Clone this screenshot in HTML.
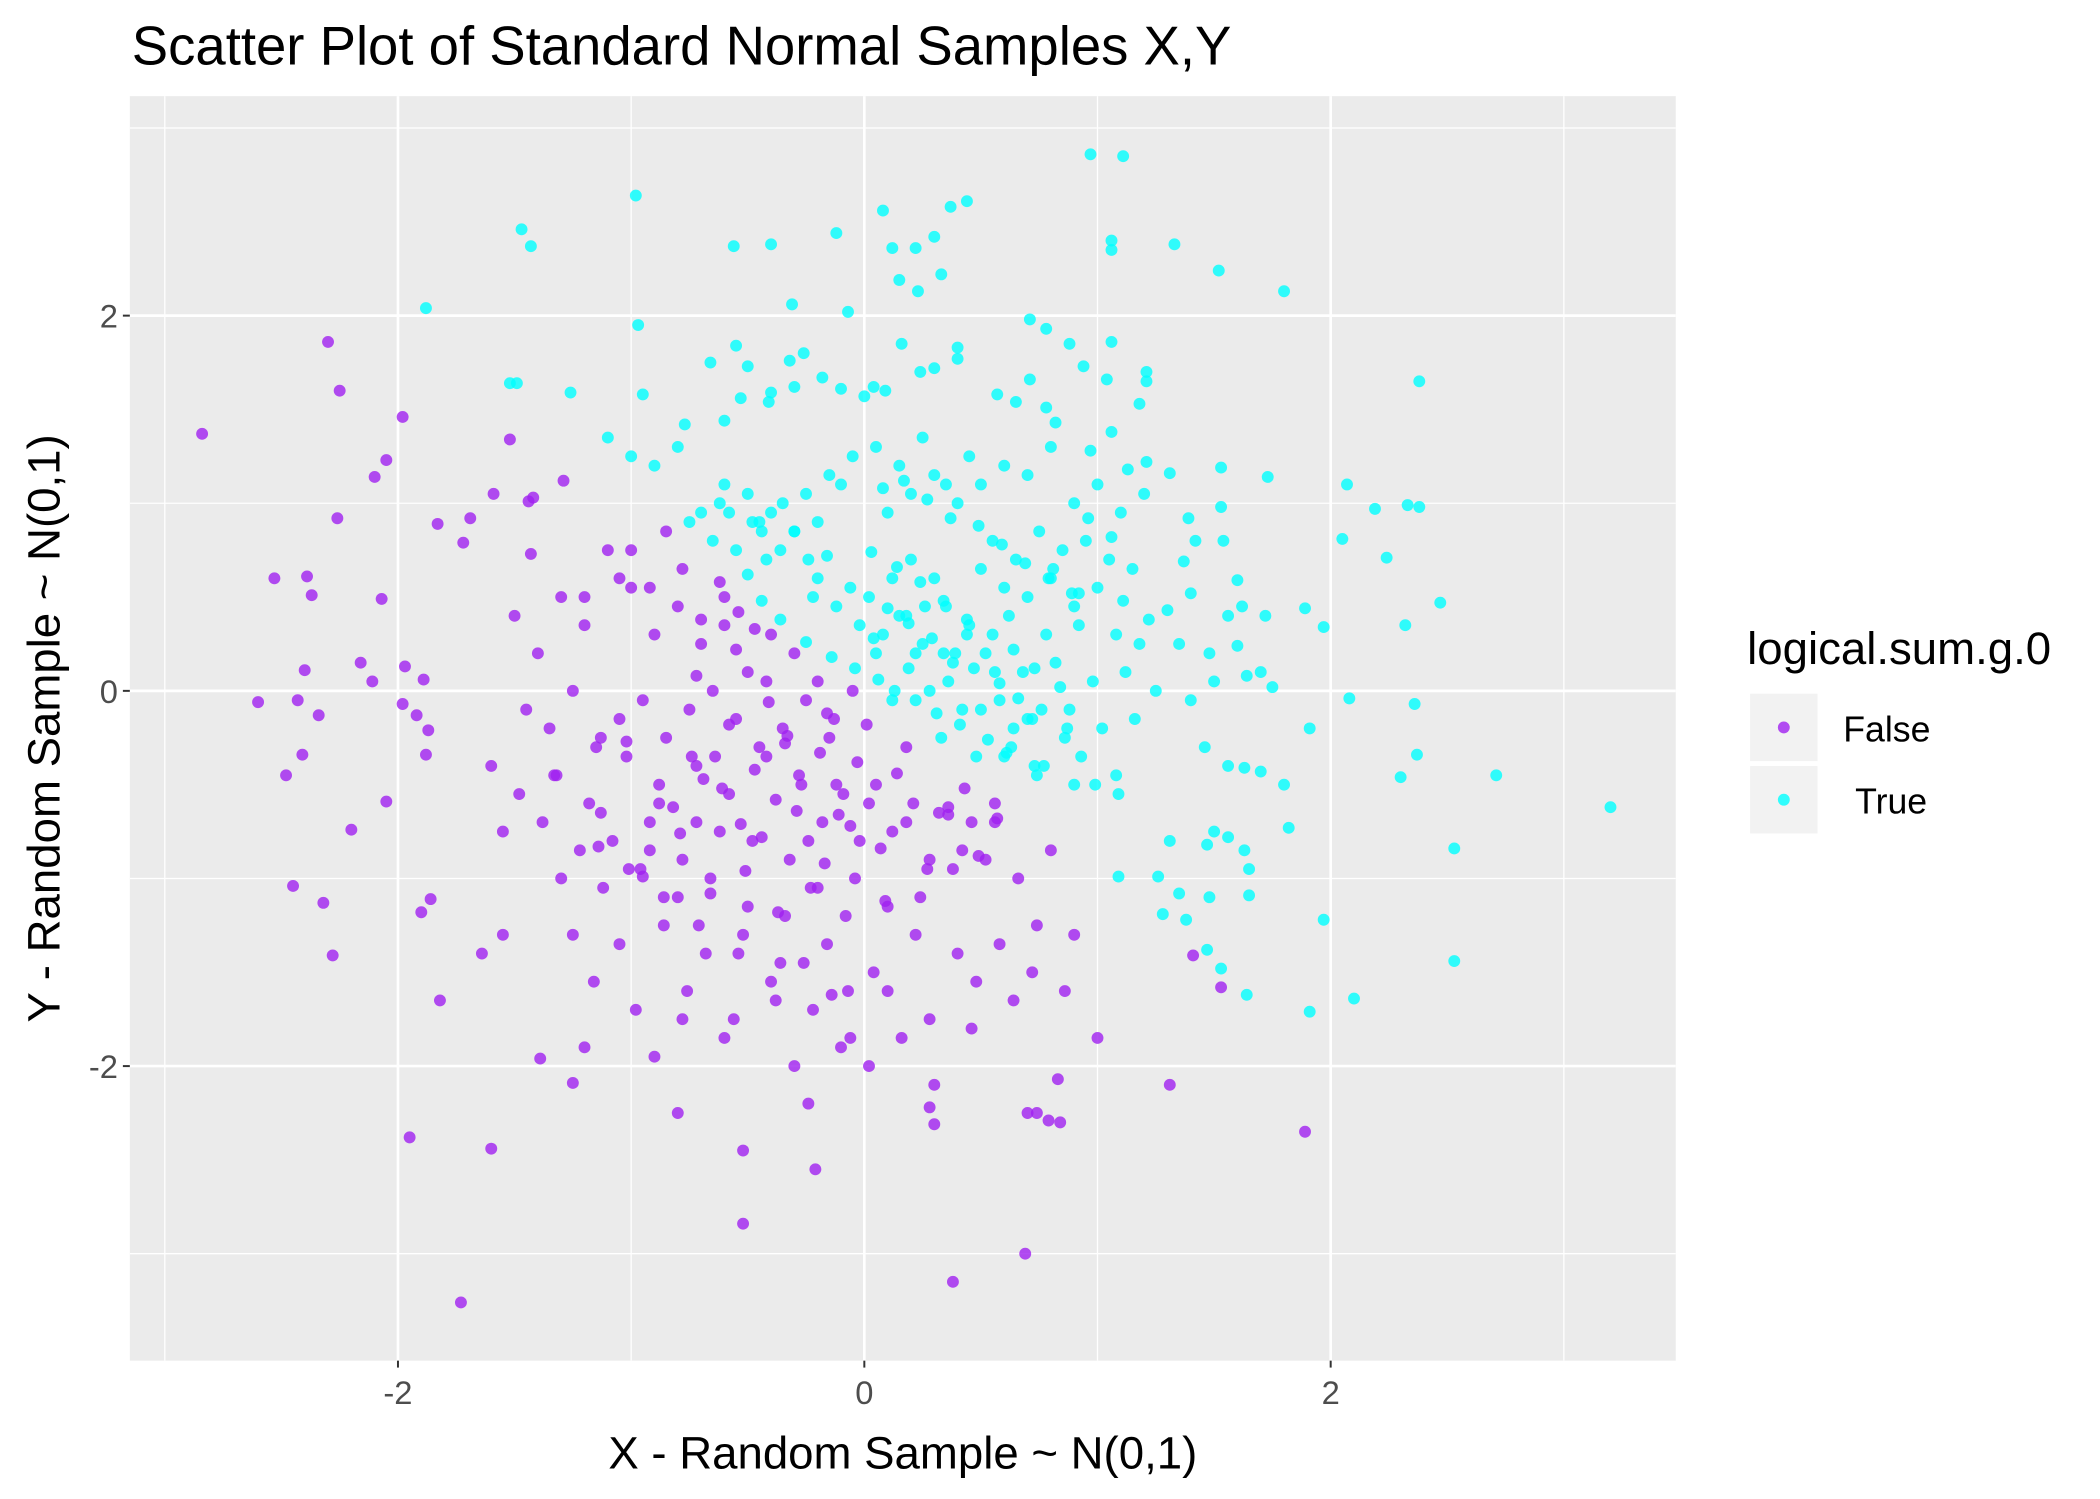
<!DOCTYPE html>
<html><head><meta charset="utf-8"><style>
html,body{margin:0;padding:0;background:#fff;}
svg{display:block;font-family:"Liberation Sans",sans-serif;}
</style></head><body>
<svg id="chart" width="2100" height="1499" viewBox="0 0 2100 1499">
<rect x="0" y="0" width="2100" height="1499" fill="#fff"/>
<g transform="scale(0.991)">
<text x="133" y="65" font-size="55" fill="#000">Scatter Plot of Standard Normal Samples X,Y</text>
<rect x="131" y="97" width="1560" height="1276" fill="#EBEBEB"/>
<g id="grid"></g>
<g id="points"></g>
<g id="axes"></g>
<text x="911" y="1482" font-size="46" text-anchor="middle" fill="#000">X - Random Sample ~ N(0,1)</text>
<text transform="translate(60,735) rotate(-90)" font-size="46" text-anchor="middle" fill="#000">Y - Random Sample ~ N(0,1)</text>
<g>
<text x="1763" y="670" font-size="46" fill="#000">logical.sum.g.0</text>
<rect x="1766" y="700" width="68" height="68" fill="#F2F2F2"/>
<circle cx="1800" cy="734" r="6" fill="#A020F0" fill-opacity="0.8"/>
<text x="1860" y="748" font-size="36" fill="#000">False</text>
<rect x="1766" y="773" width="68" height="68" fill="#F2F2F2"/>
<circle cx="1800" cy="807" r="6" fill="#00FFFF" fill-opacity="0.8"/>
<text x="1872" y="821" font-size="36" fill="#000">True</text>
</g>
</g>
</svg>
<script>
const xTicks=[-2,0,2];
const yTicks=[-2,0,2];
const xTickLabels=["-2","0","2"];
const yTickLabels=["-2","0","2"];
const xMinor=[-3,-1,1,3];
const yMinor=[-3,-1,1,3];
const xs=[-2.84,-2.30,-2.25,-1.98,-2.05,-2.10,-2.26,-2.53,-2.39,-2.37,-2.07,-2.40,-2.16,-2.60,-2.43,-2.34,-2.41,-2.48,-2.20,-2.05,-2.45,-2.32,-2.28,-1.95,-1.60,-1.73,-1.82,-1.39,-1.25,-1.90,-1.86,-2.11,-1.98,-1.89,-1.97,-1.92,-1.87,-1.88,-1.88,-1.47,-1.43,-0.98,-0.97,-1.52,-1.49,-1.26,-1.52,-1.29,-1.44,-1.42,-1.59,-1.83,-1.69,-1.72,-1.43,
0.97,1.11,0.08,0.37,0.44,-0.12,0.12,0.22,0.30,-0.56,-0.40,0.15,0.23,0.33,-0.31,-0.07,1.06,1.06,1.33,1.52,1.80,2.38,0.71,0.78,0.16,0.40,0.40,1.06,0.88,0.94,1.21,-0.55,-0.26,-0.50,-0.32,-0.66,-0.95,-0.77,-0.60,-0.53,-0.41,-0.40,-0.30,-0.18,-0.10,0.00,0.04,0.09,0.24,0.30,0.57,0.65,0.71,0.78,0.82,1.04,1.21,1.18,1.06,1.21,1.31,1.53,1.73,2.07,2.19,2.33,2.38,2.05,2.24,2.47,1.89,1.97,2.32,2.36,2.08,1.91,2.37,2.30,2.71,3.20,2.53,1.97,2.53,2.10,1.91,1.64,1.53,1.53,1.47,1.38,1.28,1.35,1.48,1.26,1.09,1.31,1.47,1.63,1.65,1.65,1.82,1.80,1.70,1.63,1.56,1.50,1.56,1.46,1.40,1.50,1.56,1.62,1.60,1.75,1.70,1.64,1.48,1.35,1.30,1.22,1.11,1.40,1.37,1.42,1.39,1.54,1.53,1.72,1.60,
-0.9,-0.8,-0.7,-0.6,-1.0,-1.1,-0.85,-0.75,-0.65,-0.55,-0.45,-0.35,-0.25,-0.15,-0.05,0.05,0.15,0.25,0.35,0.45,-0.5,-0.4,-0.3,-0.2,-0.1,0.1,0.2,0.3,0.4,0.5,0.6,0.7,0.8,0.9,1.0,1.1,1.2,0.55,0.65,0.75,0.85,0.95,1.05,1.15,0.2,0.3,0.5,0.6,0.7,0.8,0.9,1.0,0.15,0.35,0.45,0.62,0.78,0.92,1.08,1.18,0.05,0.25,0.38,0.52,0.68,0.82,0.98,1.12,1.25,0.12,0.28,0.42,0.58,0.72,0.88,1.02,1.16,0.18,0.33,0.48,0.63,0.77,0.93,1.08,-0.22,-0.12,-0.02,0.08,0.22,0.36,0.5,0.64,-0.48,-0.36,-0.2,0.02,0.18,0.34,0.56,0.7,0.86,-0.62,-0.44,-0.24,-0.06,0.12,0.26,0.44,0.6,0.74,0.9,
-1.5,-1.4,-1.3,-1.2,-1.1,-1.0,-0.9,-0.8,-0.7,-0.6,-0.5,-0.4,-0.3,-0.2,-1.45,-1.35,-1.25,-1.15,-1.05,-0.95,-0.85,-0.75,-0.65,-0.55,-0.45,-0.35,-0.25,-0.15,-0.05,0.05,-1.6,-1.48,-1.32,-1.18,-1.02,-0.88,-0.72,-0.58,-0.42,-0.28,-0.12,0.02,0.18,0.32,-1.55,-1.38,-1.22,-1.08,-0.92,-0.78,-0.62,-0.48,-0.32,-0.18,-0.02,0.12,0.28,0.42,0.56,-1.3,-1.12,-0.96,-0.8,-0.66,-0.5,-0.34,-0.2,-0.04,0.1,0.24,0.38,0.52,0.66,0.8,-1.25,-1.05,-0.86,-0.68,-0.52,-0.36,-0.16,0.04,0.22,0.4,0.58,0.74,0.9,-1.16,-0.98,-0.76,-0.56,-0.38,-0.22,-0.06,0.1,0.28,0.48,0.64,-1.2,-0.9,-0.6,-0.3,-0.1,0.16,0.46,0.72,0.86,1.0,-0.8,-0.52,-0.24,0.02,0.3,0.7,0.84,1.41,1.31,1.89,0.38,0.69,-0.52,-0.21,0.83,0.79,0.74,0.28,0.30,-0.07,-0.78,-1.64,-1.55,-1.13,-0.92,-0.72,-1.33,-1.13,-1.05,-1.2,-1.0,-0.78,-0.92,-0.6,-0.42,-0.16,-0.34,
-0.72,-0.64,-0.58,-0.47,-0.41,-0.33,-0.27,-0.19,-0.13,-0.09,-0.03,-0.82,-0.69,-0.53,-0.38,-0.24,-0.11,0.01,0.14,-1.02,-0.88,-0.74,-0.61,-0.44,-0.29,-0.17,-0.06,0.07,0.21,0.36,0.49,-0.95,-0.79,-0.66,-0.51,-0.37,-0.23,-0.08,0.09,0.27,0.43,0.57,-1.14,-1.01,-0.86,-0.71,-0.54,-0.4,-0.26,-0.14,0.04,0.19,-0.7,-0.55,-0.42,-0.3,-0.16,
-0.58,-0.5,-0.44,-0.36,-0.62,-0.54,-0.47,-0.25,-0.14,-0.04,0.06,0.13,0.22,0.31,0.41,0.53,0.61,0.73,0.81,0.92,0.1,0.19,0.29,0.39,0.47,0.58,0.66,0.76,0.87,0.96,1.06,0.03,0.14,0.24,0.34,0.44,0.55,0.64,0.73,0.84,0.97,1.13,0.08,0.17,0.27,0.37,0.49,0.59,0.69,0.79,0.89,0.99,1.09,0.36,0.46,0.56,0.67,0.76];
const ys=[1.37,1.86,1.60,1.46,1.23,1.14,0.92,0.60,0.61,0.51,0.49,0.11,0.15,-0.06,-0.05,-0.13,-0.34,-0.45,-0.74,-0.59,-1.04,-1.13,-1.41,-2.38,-2.44,-3.26,-1.65,-1.96,-2.09,-1.18,-1.11,0.05,-0.07,0.06,0.13,-0.13,-0.21,-0.34,2.04,2.46,2.37,2.64,1.95,1.64,1.64,1.59,1.34,1.12,1.01,1.03,1.05,0.89,0.92,0.79,0.73,
2.86,2.85,2.56,2.58,2.61,2.44,2.36,2.36,2.42,2.37,2.38,2.19,2.13,2.22,2.06,2.02,2.40,2.35,2.38,2.24,2.13,1.65,1.98,1.93,1.85,1.83,1.77,1.86,1.85,1.73,1.70,1.84,1.80,1.73,1.76,1.75,1.58,1.42,1.44,1.56,1.54,1.59,1.62,1.67,1.61,1.57,1.62,1.60,1.70,1.72,1.58,1.54,1.66,1.51,1.43,1.66,1.65,1.53,1.38,1.22,1.16,1.19,1.14,1.10,0.97,0.99,0.98,0.81,0.71,0.47,0.44,0.34,0.35,-0.07,-0.04,-0.20,-0.34,-0.46,-0.45,-0.62,-0.84,-1.22,-1.44,-1.64,-1.71,-1.62,-1.48,-1.58,-1.38,-1.22,-1.19,-1.08,-1.10,-0.99,-0.99,-0.80,-0.82,-0.85,-0.95,-1.09,-0.73,-0.50,-0.43,-0.41,-0.78,-0.75,-0.40,-0.30,-0.05,0.05,0.40,0.45,0.24,0.02,0.10,0.08,0.20,0.25,0.43,0.38,0.48,0.52,0.69,0.80,0.92,0.80,0.98,0.40,0.59,
1.2,1.3,0.95,1.1,1.25,1.35,0.85,0.9,0.8,0.75,0.9,1.0,1.05,1.15,1.25,1.3,1.2,1.35,1.1,1.25,1.05,0.95,0.85,0.9,1.1,0.95,1.05,1.15,1.0,1.1,1.2,1.15,1.3,1.0,1.1,0.95,1.05,0.8,0.7,0.85,0.75,0.8,0.7,0.65,0.7,0.6,0.65,0.55,0.5,0.6,0.45,0.55,0.4,0.45,0.35,0.4,0.3,0.35,0.3,0.25,0.2,0.25,0.15,0.2,0.1,0.15,0.05,0.1,0.0,-0.05,0.0,-0.1,-0.05,-0.15,-0.1,-0.2,-0.15,-0.3,-0.25,-0.35,-0.3,-0.4,-0.35,-0.45,0.5,0.45,0.35,0.3,0.2,0.05,-0.1,-0.2,0.9,0.75,0.6,0.5,0.4,0.2,0.1,-0.15,-0.25,1.0,0.85,0.7,0.55,0.6,0.45,0.3,-0.35,-0.45,-0.5,
0.4,0.2,0.5,0.35,0.75,0.55,0.3,0.45,0.25,0.35,0.1,0.3,0.2,0.05,-0.1,-0.2,0.0,-0.3,-0.15,-0.05,-0.25,-0.1,0.0,-0.15,-0.3,-0.2,-0.05,-0.25,0.0,-0.5,-0.4,-0.55,-0.45,-0.6,-0.35,-0.5,-0.4,-0.55,-0.35,-0.45,-0.5,-0.6,-0.7,-0.65,-0.75,-0.7,-0.85,-0.8,-0.7,-0.9,-0.75,-0.8,-0.9,-0.7,-0.8,-0.75,-0.9,-0.85,-0.7,-1.0,-1.05,-0.95,-1.1,-1.0,-1.15,-1.2,-1.05,-1.0,-1.15,-1.1,-0.95,-0.9,-1.0,-0.85,-1.3,-1.35,-1.25,-1.4,-1.3,-1.45,-1.35,-1.5,-1.3,-1.4,-1.35,-1.25,-1.3,-1.55,-1.7,-1.6,-1.75,-1.65,-1.7,-1.85,-1.6,-1.75,-1.55,-1.65,-1.9,-1.95,-1.85,-2.0,-1.9,-1.85,-1.8,-1.5,-1.6,-1.85,-2.25,-2.45,-2.2,-2.0,-2.1,-2.25,-2.3,-1.41,-2.1,-2.35,-3.15,-3.0,-2.84,-2.55,-2.07,-2.29,-2.25,-2.22,-2.31,-1.6,-1.75,-1.4,-1.3,-0.65,-0.85,-0.7,-0.45,-0.25,0.6,0.5,0.75,0.65,0.55,0.5,0.7,
-0.12,-0.28,0.08,-0.35,-0.18,-0.42,-0.06,-0.24,-0.5,-0.33,-0.15,-0.55,-0.38,-0.62,-0.47,-0.71,-0.58,-0.8,-0.66,-0.18,-0.44,-0.27,-0.6,-0.35,-0.52,-0.78,-0.64,-0.92,-0.72,-0.84,-0.6,-0.66,-0.88,-0.99,-0.76,-1.08,-0.96,-1.18,-1.05,-1.2,-1.12,-0.95,-0.52,-0.68,-0.83,-0.95,-1.1,-1.25,-1.4,-1.55,-1.45,-1.62,0.28,0.12,0.38,0.22,0.05,
0.85,0.72,0.95,0.62,0.48,0.38,0.58,0.42,0.33,0.26,0.18,0.12,0.06,0.0,-0.05,-0.12,-0.18,-0.26,-0.33,-0.4,0.65,0.52,0.44,0.36,0.28,0.2,0.12,0.04,-0.04,-0.1,-0.2,0.92,0.82,0.74,0.66,0.58,0.48,0.38,0.3,0.22,0.12,0.02,1.28,1.18,1.08,1.12,1.02,0.92,0.88,0.78,0.68,0.6,0.52,-0.5,-0.55,-0.62,-0.7,-0.6];
const X0=-3.15,X1=3.48,Y0=-3.57,Y1=3.17,PL=131,PR=1691,PT=97,PB=1373;
function sx(v){return PL+(v-X0)/(X1-X0)*(PR-PL);}
function sy(v){return PB-(v-Y0)/(Y1-Y0)*(PB-PT);}
const NS="http://www.w3.org/2000/svg";
const grid=document.getElementById('grid'),pts=document.getElementById('points'),axes=document.getElementById('axes');
function line(g,x1,y1,x2,y2,w,c,name){const l=document.createElementNS(NS,'line');l.setAttribute('x1',x1);l.setAttribute('y1',y1);l.setAttribute('x2',x2);l.setAttribute('y2',y2);l.setAttribute('stroke',c);l.setAttribute('stroke-width',w);


g.appendChild(l);}
xMinor.forEach(v=>line(grid,sx(v),PT,sx(v),PB,1.3,'#fff','x-minor-gridline'));
yMinor.forEach(v=>line(grid,PL,sy(v),PR,sy(v),1.3,'#fff','y-minor-gridline'));
xTicks.forEach(v=>line(grid,sx(v),PT,sx(v),PB,2.7,'#fff','x-major-gridline'));
yTicks.forEach(v=>line(grid,PL,sy(v),PR,sy(v),2.7,'#fff','y-major-gridline'));
for(let i=0;i<xs.length&&i<ys.length;i++){const c=document.createElementNS(NS,'circle');c.setAttribute('cx',sx(xs[i]));c.setAttribute('cy',sy(ys[i]));c.setAttribute('r',6);
c.setAttribute('fill',(xs[i]+ys[i]>0)?'#00FFFF':'#A020F0');c.setAttribute('fill-opacity','0.8');


pts.appendChild(c);}
function txt(x,y,s,anchor,name){const t=document.createElementNS(NS,'text');t.setAttribute('x',x);t.setAttribute('y',y);t.setAttribute('font-size','33');t.setAttribute('fill','#4D4D4D');t.setAttribute('text-anchor',anchor);t.textContent=s;


axes.appendChild(t);}
xTicks.forEach((v,i)=>{line(axes,sx(v),PB,sx(v),PB+7,2,'#333','x-tick');txt(sx(v),PB+44,xTickLabels[i],'middle','x-tick-label');});
yTicks.forEach((v,i)=>{line(axes,PL-7,sy(v),PL,sy(v),2,'#333','y-tick');txt(PL-12,sy(v)+12,yTickLabels[i],'end','y-tick-label');});
</script>
</body></html>
